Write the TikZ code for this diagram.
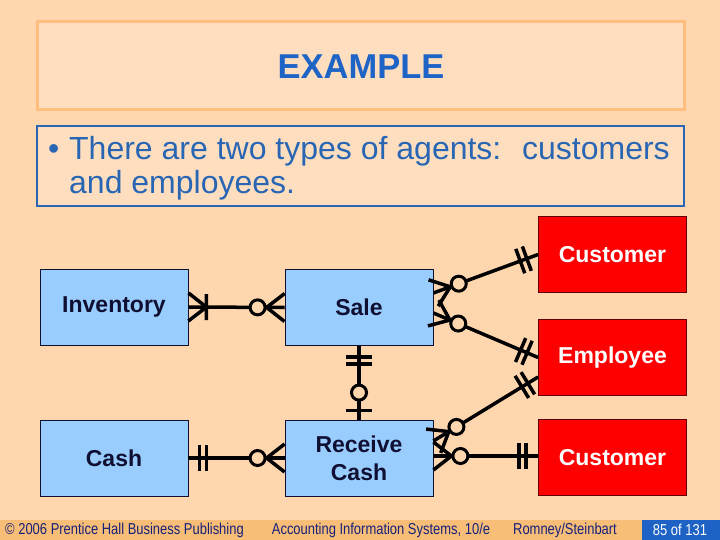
\documentclass[tikz,border=0pt]{standalone}
\usepackage{fontspec}
\setmainfont{Liberation Sans}
\newfontfamily\narrowfont[FakeStretch=0.82]{Liberation Sans}
\usetikzlibrary{calc}
\definecolor{peach}{RGB}{255,214,174}
\definecolor{peachlight}{RGB}{255,222,192}
\definecolor{boxorange}{RGB}{255,190,125}
\definecolor{slideblue}{RGB}{40,102,180}
\definecolor{titleblue}{RGB}{30,100,198}
\definecolor{entityblue}{RGB}{153,204,255}
\definecolor{entityred}{RGB}{255,0,0}
\definecolor{darknavy}{RGB}{15,15,50}
\definecolor{footorange}{RGB}{248,190,120}
\definecolor{footblue}{RGB}{30,98,198}
\definecolor{footnavy}{RGB}{22,32,120}

\tikzset{
  entity/.style={draw=darknavy, line width=0.8pt, fill=entityblue,
    minimum width=148pt, minimum height=76pt, inner sep=0pt,
    text=darknavy, font=\fontsize{23}{28}\selectfont\bfseries, align=center},
  agent/.style={entity, draw=black!60!red, fill=entityred, text=white},
  erline/.style={line width=3.5pt, black, line join=round},
  ring/.style={circle, draw=black, line width=3pt, fill=peach,
    minimum size=15pt, inner sep=0pt},
  foot/.style={font=\narrowfont\fontsize{15.8}{18}\selectfont, text=footnavy, inner sep=0pt}
}

% crow's foot, bar and ring on the line from #1 towards #2
\newcommand{\crowfoot}[2]{\draw[erline] ($(#1)!14pt!90:(#2)$) -- ($(#1)!18pt!(#2)$) -- ($(#1)!14pt!-90:(#2)$);}
\newcommand{\onebar}[3]{\draw[erline] ($(#1)!#3!(#2)!13pt!90:(#2)$) -- ($(#1)!#3!(#2)!13pt!-90:(#2)$);}
\newcommand{\ringat}[3]{\node[ring] at ($(#1)!#3!(#2)$) {};}

\begin{document}
\begin{tikzpicture}[x=1pt, y=-1pt]
  \useasboundingbox (0,0) rectangle (720,540);
  \fill[peach] (0,0) rectangle (720,540);

  % title and bullet
  \draw[line width=3pt, draw=boxorange, fill=peachlight] (37,22) rectangle (684,110);
  \node[text=titleblue, font=\fontsize{34.5}{40}\selectfont\bfseries] (title) at (361,67) {EXAMPLE};
  \draw[line width=2.5pt, draw=slideblue, fill=peachlight] (37,126) rectangle (684,206);
  \node[anchor=west, inner sep=0pt, align=left, text=slideblue,
    font=\fontsize{32}{34}\selectfont] (point) at (48,168)
    {\makebox[21pt][l]{\textbullet}There are two types of agents:~ customers\\
     \hspace*{21pt}and employees.};

  % entities
  \node[entity] (inventory) at (114,307) {Inventory};
  \node[entity] (sale) at (359,307.5) {Sale};
  \node[entity] (cash) at (114,458) {Cash};
  \node[entity] (rc) at (359,458) {Receive\\Cash};
  \node[agent] (cust1) at (612.5,254.5) {Customer};
  \node[agent] (emp) at (612.5,357.5) {Employee};
  \node[agent] (cust2) at (612.5,457.5) {Customer};

  \coordinate (sa1) at ([yshift=14.5pt]sale.east);
  \coordinate (sa2) at ([yshift=-5.5pt]sale.east);
  \coordinate (rc1) at ([yshift=17pt]rc.east);
  \coordinate (rc2) at ([yshift=2pt]rc.east);
  \coordinate (em2) at ([yshift=-19.5pt]emp.west);
  \coordinate (cu2) at ([yshift=1.5pt]cust2.west);

  % inventory -- sale
  \draw[erline] (inventory.east) -- (sale.west);
  \crowfoot{inventory.east}{sale.west}
  \onebar{inventory.east}{sale.west}{18pt}
  \crowfoot{sale.west}{inventory.east}
  \ringat{sale.west}{inventory.east}{27pt}

  % sale -- customer
  \draw[erline] (sa1) -- (cust1.west);
  \crowfoot{sa1}{cust1.west}
  \onebar{cust1.west}{sa1}{12pt}
  \onebar{cust1.west}{sa1}{19pt}
  \ringat{sa1}{cust1.west}{27pt}

  % sale -- employee
  \draw[erline] (sa2) -- (emp.west);
  \crowfoot{sa2}{emp.west}
  \onebar{emp.west}{sa2}{12pt}
  \onebar{emp.west}{sa2}{19pt}
  \ringat{sa2}{emp.west}{27pt}

  % sale -- receive cash
  \draw[erline] (sale.south) -- (rc.north);
  \onebar{sale.south}{rc.north}{11pt}
  \onebar{sale.south}{rc.north}{18pt}
  \onebar{rc.north}{sale.south}{9pt}
  \ringat{rc.north}{sale.south}{27pt}

  % receive cash -- employee
  \draw[erline] (rc1) -- (em2);
  \crowfoot{rc1}{em2}
  \onebar{em2}{rc1}{12pt}
  \onebar{em2}{rc1}{19pt}
  \ringat{rc1}{em2}{27pt}

  % receive cash -- customer
  \draw[erline] (rc2) -- (cu2);
  \crowfoot{rc2}{cu2}
  \onebar{cu2}{rc2}{12pt}
  \onebar{cu2}{rc2}{19pt}
  \ringat{rc2}{cu2}{27pt}

  % cash -- receive cash
  \draw[erline] (cash.east) -- (rc.west);
  \onebar{cash.east}{rc.west}{11pt}
  \onebar{cash.east}{rc.west}{18pt}
  \crowfoot{rc.west}{cash.east}
  \ringat{rc.west}{cash.east}{27pt}

  % footer
  \fill[footorange] (0,520) rectangle (720,540);
  \fill[footblue] (642,520) rectangle (720,540);
  \node[foot, anchor=west] (copy) at (5,530) {© 2006 Prentice Hall Business Publishing};
  \node[foot] (book) at (381,530) {Accounting Information Systems, 10/e};
  \node[foot] (authors) at (565,530) {Romney/Steinbart};
  \node[foot, text=white] (page) at (680,530) {85 of 131};
\end{tikzpicture}
\end{document}
